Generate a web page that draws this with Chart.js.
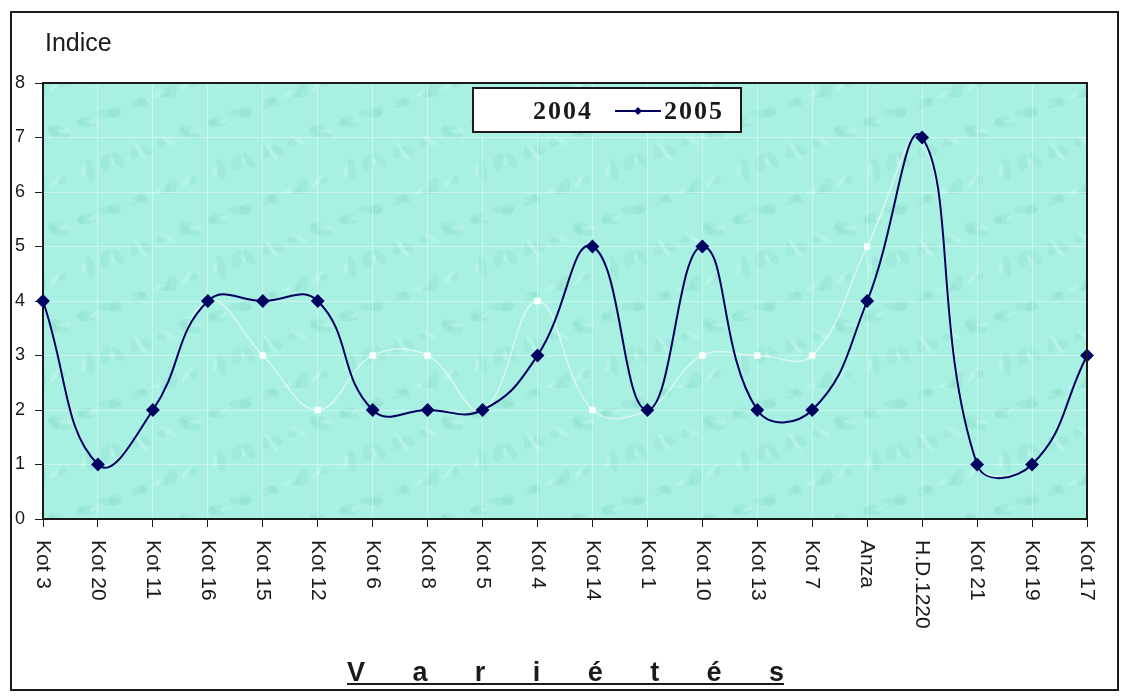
<!DOCTYPE html>
<html lang="fr">
<head>
    <meta charset="UTF-8">
    <title>Indice par variétés</title>
    <script src="https://cdn.jsdelivr.net/npm/chart.js"></script>
    <style>
        body {
            margin: 0;
            background: white;
        }
        canvas {
            display: block;
        }
    </style>
</head>
<body>
    <canvas id="indiceChart" width="1130" height="700"></canvas>

    <script>
        const varietes = ['Kot 3', 'Kot 20', 'Kot 11', 'Kot 16', 'Kot 15', 'Kot 12', 'Kot 6', 'Kot 8', 'Kot 5', 'Kot 4',
                          'Kot 14', 'Kot 1', 'Kot 10', 'Kot 13', 'Kot 7', 'Anza', 'H.D.1220', 'Kot 21', 'Kot 19', 'Kot 17'];
        const indice2004 = [4, 1, 2, 4, 3, 2, 3, 3, 2, 4, 2, 2, 3, 3, 3, 5, 7, 1, 1, 3];
        const indice2005 = [4, 1, 2, 4, 4, 4, 2, 2, 2, 3, 5, 2, 5, 2, 2, 4, 7, 1, 1, 3];
        const yTicks = [0, 1, 2, 3, 4, 5, 6, 7, 8];

        const dark = '#1a1a1a';
        const navy = '#000060';

        // texture of the plot area (light aqua with soft spots)
        function makeTexture(ctx) {
            const c = document.createElement('canvas');
            c.width = 131; c.height = 97;
            const t = c.getContext('2d');
            t.fillStyle = '#a8f0e1';
            t.fillRect(0, 0, c.width, c.height);
            for (let i = 0; i < 26; i++) {
                const x = (i * 53) % 131, y = (i * 29 + 7) % 97;
                t.fillStyle = i % 3 === 0 ? 'rgba(205,252,245,0.35)' : 'rgba(110,205,185,0.16)';
                t.beginPath();
                t.ellipse(x, y, 4 + (i % 4) * 2.5, 2.5 + (i % 3) * 1.5, i * 0.9, 0, Math.PI * 2);
                t.fill();
            }
            return ctx.createPattern(c, 'repeat');
        }

        const decor = {
            id: 'decor',
            beforeDraw(chart) {
                const { ctx, chartArea: a } = chart;
                ctx.save();
                ctx.fillStyle = makeTexture(ctx);
                ctx.fillRect(a.left, a.top, a.right - a.left, a.bottom - a.top);
                ctx.restore();
            },
            afterDraw(chart) {
                const { ctx, chartArea: a } = chart;
                const xs = chart.scales.x;
                ctx.save();

                // outer frame and plot frame
                ctx.strokeStyle = dark;
                ctx.lineWidth = 2;
                ctx.strokeRect(11, 12, 1107, 678);
                ctx.beginPath();
                ctx.moveTo(a.left, a.top);
                ctx.lineTo(a.right, a.top);
                ctx.lineTo(a.right, a.bottom);
                ctx.stroke();

                // y axis title
                ctx.fillStyle = dark;
                ctx.font = '25px "Liberation Sans", Arial, sans-serif';
                ctx.textAlign = 'left';
                ctx.textBaseline = 'alphabetic';
                ctx.fillText('Indice', 45, 51);

                // category labels, rotated clockwise
                ctx.font = '21px "Liberation Sans", Arial, sans-serif';
                ctx.textBaseline = 'middle';
                chart.data.labels.forEach((lab, i) => {
                    ctx.save();
                    ctx.translate(xs.getPixelForValue(i), a.bottom + 21);
                    ctx.rotate(Math.PI / 2);
                    ctx.fillText(lab, 0, 0);
                    ctx.restore();
                });

                // x axis title, spaced and underlined
                const titre = 'Variétés';
                const x0 = 347, x1 = 784;
                ctx.font = 'bold 27px "Liberation Sans Narrow", "Arial Narrow", Arial, sans-serif';
                ctx.textBaseline = 'alphabetic';
                let total = 0;
                for (const ch of titre) total += ctx.measureText(ch).width;
                const gap = (x1 - x0 - total) / (titre.length - 1);
                let x = x0;
                for (const ch of titre) {
                    ctx.fillText(ch, x, 681);
                    x += ctx.measureText(ch).width + gap;
                }
                ctx.fillRect(x0, 683, x1 - x0, 2);

                // legend
                const ds = chart.data.datasets;
                ctx.fillStyle = 'white';
                ctx.fillRect(473, 88, 268, 44);
                ctx.strokeStyle = dark;
                ctx.lineWidth = 2;
                ctx.strokeRect(473, 88, 268, 44);
                ctx.font = 'bold 26px "Liberation Serif", "Times New Roman", serif';
                ctx.textBaseline = 'middle';
                const items = [
                    { d: ds[0], lx: 488, tx: 533 },
                    { d: ds[1], lx: 615, tx: 664 }
                ];
                items.forEach(it => {
                    ctx.strokeStyle = it.d.borderColor;
                    ctx.lineWidth = 2;
                    ctx.beginPath();
                    ctx.moveTo(it.lx, 111);
                    ctx.lineTo(it.lx + 46, 111);
                    ctx.stroke();
                    ctx.fillStyle = it.d.pointBackgroundColor;
                    ctx.beginPath();
                    ctx.moveTo(it.lx + 23, 107);
                    ctx.lineTo(it.lx + 27, 111);
                    ctx.lineTo(it.lx + 23, 115);
                    ctx.lineTo(it.lx + 19, 111);
                    ctx.fill();
                    ctx.fillStyle = dark;
                    ctx.letterSpacing = '2px';
                    ctx.fillText(it.d.label, it.tx, 112);
                });
                ctx.restore();
            }
        };

        const ctx = document.getElementById('indiceChart').getContext('2d');

        new Chart(ctx, {
            type: 'line',
            data: {
                labels: varietes,
                datasets: [
                    {
                        label: '2004',
                        data: indice2004,
                        borderColor: 'rgba(255,255,255,0.55)',
                        borderWidth: 1.5,
                        pointStyle: 'rect',
                        pointRadius: 3.5,
                        pointBackgroundColor: 'rgba(255,255,255,0.85)',
                        pointBorderColor: 'rgba(255,255,255,0.85)',
                        tension: 0.4,
                        order: 1
                    },
                    {
                        label: '2005',
                        data: indice2005,
                        borderColor: navy,
                        borderWidth: 2,
                        pointStyle: 'rectRot',
                        pointRadius: 5.5,
                        pointBackgroundColor: navy,
                        pointBorderColor: navy,
                        tension: 0.45,
                        order: 0
                    }
                ]
            },
            options: {
                responsive: false,
                animation: false,
                layout: { padding: { top: 83, right: 43, left: 0, bottom: 0 } },
                scales: {
                    x: {
                        type: 'category',
                        offset: false,
                        ticks: { display: false },
                        grid: {
                            color: 'rgba(255,255,255,0.4)',
                            tickColor: dark,
                            tickLength: 8
                        },
                        border: { color: dark, width: 2 },
                        afterFit: s => { s.height = 181; }
                    },
                    y: {
                        min: yTicks[0],
                        max: yTicks[yTicks.length - 1],
                        afterBuildTicks: s => { s.ticks = yTicks.map(v => ({ value: v })); },
                        ticks: {
                            color: dark,
                            padding: 10,
                            font: { family: '"Liberation Sans", Arial, sans-serif', size: 18 }
                        },
                        grid: {
                            color: 'rgba(255,255,255,0.4)',
                            tickColor: dark,
                            tickLength: 8
                        },
                        border: { color: dark, width: 2 },
                        afterFit: s => { s.width = 43; }
                    }
                },
                plugins: {
                    legend: { display: false },
                    tooltip: { enabled: false }
                }
            },
            plugins: [decor]
        });
    </script>
</body>
</html>
